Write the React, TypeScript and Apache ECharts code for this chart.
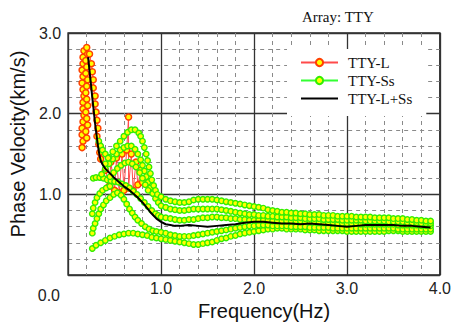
import React, { useEffect, useRef } from 'react';
import * as echarts from 'echarts';

// ---- data ----
const TITLE = 'Array: TTY';
const X_NAME = 'Frequency(Hz)';
const Y_NAME = 'Phase Velocity(km/s)';
const LEGEND = ['TTY-L', 'TTY-Ss', 'TTY-L+Ss'];

// common frequency grid for the high-frequency part of TTY-Ss curves
const FREQ_HI = [
  1.00, 1.05, 1.10, 1.15, 1.20, 1.25, 1.30, 1.35, 1.40, 1.45, 1.50, 1.55, 1.60, 1.65, 1.70, 1.75, 1.80, 1.85, 1.90, 1.95,
  2.00, 2.05, 2.10, 2.15, 2.20, 2.25, 2.30, 2.35, 2.40, 2.45, 2.50, 2.55, 2.60, 2.65, 2.70, 2.75, 2.80, 2.85, 2.90, 2.95,
  3.00, 3.05, 3.10, 3.15, 3.20, 3.25, 3.30, 3.35, 3.40, 3.45, 3.50, 3.55, 3.60, 3.65, 3.70, 3.75, 3.80, 3.85, 3.90,
];

// TTY-Ss curves: low-frequency part as [f, v], high part as v on FREQ_HI
const SS_T_LO = [[0.40, 1.38], [0.44, 1.46], [0.48, 1.53], [0.52, 1.60], [0.56, 1.66], [0.60, 1.72], [0.64, 1.77], [0.68, 1.80], [0.72, 1.80], [0.76, 1.76], [0.78, 1.72], [0.80, 1.66], [0.82, 1.58], [0.84, 1.50], [0.855, 1.42], [0.87, 1.34], [0.885, 1.26], [0.90, 1.18], [0.92, 1.11], [0.94, 1.05], [0.96, 1.00]];
const SS_T_HI = [0.97, 0.94, 0.92, 0.91, 0.90, 0.90, 0.91, 0.93, 0.94, 0.94, 0.94, 0.94, 0.93, 0.92, 0.91, 0.90, 0.89, 0.88, 0.87, 0.86, 0.85, 0.84, 0.83, 0.81, 0.80, 0.79, 0.78, 0.78, 0.77, 0.77, 0.76, 0.76, 0.75, 0.75, 0.75, 0.74, 0.74, 0.74, 0.73, 0.73, 0.73, 0.73, 0.72, 0.72, 0.72, 0.72, 0.71, 0.71, 0.71, 0.71, 0.70, 0.70, 0.70, 0.69, 0.69, 0.68, 0.68, 0.67, 0.67];

const SS_S_LO = [[0.36, 1.25], [0.40, 1.32], [0.44, 1.38], [0.48, 1.44], [0.52, 1.50], [0.56, 1.55], [0.60, 1.58], [0.64, 1.60], [0.68, 1.60], [0.72, 1.56], [0.75, 1.50], [0.78, 1.43], [0.80, 1.36], [0.82, 1.29], [0.84, 1.22], [0.86, 1.15], [0.88, 1.08], [0.91, 1.01], [0.94, 0.95], [0.97, 0.90]];
const SS_S_HI = [0.86, 0.84, 0.82, 0.81, 0.80, 0.80, 0.81, 0.82, 0.82, 0.82, 0.82, 0.82, 0.82, 0.81, 0.80, 0.79, 0.78, 0.77, 0.76, 0.75, 0.75, 0.74, 0.74, 0.73, 0.73, 0.72, 0.72, 0.72, 0.71, 0.71, 0.71, 0.70, 0.70, 0.70, 0.70, 0.69, 0.69, 0.69, 0.69, 0.68, 0.68, 0.68, 0.68, 0.68, 0.67, 0.67, 0.67, 0.67, 0.67, 0.66, 0.66, 0.66, 0.66, 0.65, 0.65, 0.65, 0.64, 0.64, 0.64];

const SS_H_LO = [[0.27, 1.20], [0.30, 1.21], [0.34, 1.21], [0.38, 1.20], [0.42, 1.18], [0.46, 1.17], [0.50, 1.16], [0.54, 1.15], [0.58, 1.13], [0.62, 1.11], [0.66, 1.08], [0.70, 1.04], [0.74, 1.00], [0.78, 0.95], [0.82, 0.90], [0.86, 0.85], [0.90, 0.80], [0.94, 0.76], [0.97, 0.74]];
const SS_H_HI = [0.72, 0.71, 0.70, 0.69, 0.68, 0.68, 0.69, 0.69, 0.70, 0.71, 0.71, 0.72, 0.72, 0.71, 0.71, 0.70, 0.70, 0.69, 0.69, 0.68, 0.68, 0.68, 0.68, 0.68, 0.67, 0.67, 0.67, 0.67, 0.67, 0.67, 0.67, 0.66, 0.66, 0.66, 0.65, 0.65, 0.65, 0.65, 0.64, 0.64, 0.64, 0.64, 0.64, 0.63, 0.63, 0.63, 0.63, 0.63, 0.63, 0.63, 0.63, 0.62, 0.62, 0.62, 0.62, 0.62, 0.61, 0.61, 0.61];

const SS_B_LO = [[0.26, 0.52], [0.27, 0.58], [0.29, 0.64], [0.31, 0.70], [0.33, 0.76], [0.35, 0.82], [0.38, 0.87], [0.41, 0.92], [0.45, 0.96], [0.49, 1.00], [0.53, 1.02], [0.57, 0.99], [0.60, 0.94], [0.63, 0.88], [0.66, 0.82], [0.69, 0.77], [0.72, 0.72], [0.75, 0.68], [0.79, 0.64], [0.83, 0.60], [0.87, 0.57], [0.91, 0.55], [0.95, 0.54]];
const SS_B_HI = [0.53, 0.52, 0.50, 0.49, 0.48, 0.48, 0.48, 0.49, 0.50, 0.51, 0.52, 0.53, 0.54, 0.55, 0.56, 0.57, 0.58, 0.59, 0.60, 0.61, 0.61, 0.62, 0.62, 0.62, 0.61, 0.61, 0.61, 0.61, 0.60, 0.60, 0.60, 0.60, 0.59, 0.59, 0.59, 0.59, 0.59, 0.58, 0.58, 0.58, 0.58, 0.58, 0.58, 0.58, 0.58, 0.58, 0.58, 0.58, 0.58, 0.58, 0.58, 0.57, 0.57, 0.57, 0.57, 0.57, 0.57, 0.57, 0.57];

const SS_A_LO = [[0.26, 0.33], [0.30, 0.37], [0.35, 0.40], [0.40, 0.43], [0.45, 0.46], [0.50, 0.48], [0.55, 0.50], [0.60, 0.51], [0.65, 0.52], [0.70, 0.52], [0.75, 0.51], [0.80, 0.50], [0.85, 0.49], [0.90, 0.47], [0.95, 0.46]];
const SS_A_HI = [0.45, 0.44, 0.43, 0.42, 0.41, 0.40, 0.39, 0.38, 0.38, 0.39, 0.40, 0.41, 0.43, 0.45, 0.46, 0.48, 0.49, 0.51, 0.52, 0.53, 0.54, 0.55, 0.56, 0.57, 0.57, 0.58, 0.58, 0.57, 0.57, 0.57, 0.57, 0.56, 0.56, 0.56, 0.55, 0.55, 0.55, 0.55, 0.55, 0.55, 0.54, 0.54, 0.54, 0.54, 0.54, 0.54, 0.54, 0.54, 0.54, 0.55, 0.55, 0.55, 0.54, 0.54, 0.54, 0.54, 0.54, 0.54, 0.54];

const SS_L2 = [[0.26, 0.76], [0.27, 0.83], [0.29, 0.90], [0.31, 0.96], [0.34, 1.01], [0.37, 1.05], [0.41, 1.08], [0.45, 1.10]];
const SS_K = [[0.33, 1.66], [0.35, 1.60], [0.37, 1.55], [0.40, 1.50], [0.43, 1.45]];
const SS_M = [[0.45, 1.22], [0.49, 1.27], [0.53, 1.32], [0.57, 1.36], [0.61, 1.39], [0.65, 1.40], [0.69, 1.38], [0.73, 1.34], [0.77, 1.27], [0.80, 1.20], [0.83, 1.12], [0.86, 1.05]];

// TTY-L curves
const L_R1 = [[0.17, 2.78], [0.16, 2.70], [0.16, 2.62], [0.15, 2.54], [0.16, 2.46], [0.15, 2.38], [0.16, 2.30], [0.17, 2.22], [0.16, 2.14], [0.16, 2.06], [0.17, 1.98], [0.16, 1.90], [0.15, 1.82], [0.15, 1.74], [0.16, 1.66], [0.15, 1.58]];
const L_R2 = [[0.20, 2.82], [0.21, 2.74], [0.19, 2.66], [0.20, 2.58], [0.19, 2.50], [0.21, 2.42], [0.20, 2.34], [0.19, 2.26], [0.20, 2.18], [0.21, 2.10], [0.19, 2.02], [0.20, 1.94], [0.21, 1.86], [0.19, 1.78], [0.20, 1.70]];
const L_R3 = [[0.23, 2.74], [0.25, 2.62], [0.26, 2.52], [0.27, 2.42], [0.27, 2.32], [0.29, 2.22], [0.29, 2.12], [0.30, 2.02], [0.31, 1.92], [0.32, 1.82], [0.31, 1.72], [0.33, 1.62], [0.34, 1.52], [0.35, 1.44]];
const L_R4 = [[0.40, 1.30], [0.44, 1.10], [0.46, 1.40], [0.50, 1.05], [0.52, 1.45], [0.55, 1.02], [0.58, 1.50], [0.60, 1.05], [0.63, 1.55], [0.65, 1.96], [0.65, 1.08], [0.68, 1.50], [0.70, 1.05], [0.73, 1.40], [0.75, 1.12], [0.78, 1.30], [0.80, 1.15]];

// TTY-L+Ss combined curve
const COMBINED = [[0.215, 2.70], [0.23, 2.53], [0.245, 2.37], [0.26, 2.20], [0.275, 2.04], [0.29, 1.88], [0.305, 1.74], [0.32, 1.61], [0.335, 1.50], [0.35, 1.42], [0.37, 1.37], [0.40, 1.32], [0.45, 1.26], [0.50, 1.20], [0.55, 1.15], [0.60, 1.10], [0.65, 1.06], [0.70, 1.01], [0.75, 0.96], [0.80, 0.90], [0.85, 0.83], [0.90, 0.76], [0.95, 0.70], [1.00, 0.66], [1.05, 0.63], [1.10, 0.62], [1.15, 0.61], [1.20, 0.61], [1.30, 0.62], [1.40, 0.61], [1.50, 0.60], [1.60, 0.61], [1.70, 0.62], [1.80, 0.63], [1.90, 0.65], [2.00, 0.66], [2.10, 0.66], [2.20, 0.65], [2.30, 0.64], [2.40, 0.64], [2.50, 0.63], [2.60, 0.64], [2.70, 0.63], [2.80, 0.62], [2.90, 0.61], [3.00, 0.60], [3.10, 0.61], [3.20, 0.62], [3.30, 0.62], [3.40, 0.62], [3.50, 0.62], [3.60, 0.61], [3.70, 0.61], [3.80, 0.60], [3.90, 0.59]];

const X_TICKS = [0, 1, 2, 3, 4];
const Y_TICKS = [0, 1, 2, 3];

// ---- helpers ----
const joinCurve = (lo: number[][], hi: number[]) => {
  const out = lo.map((p) => [p[0], p[1]]);
  const n = Math.min(hi.length, FREQ_HI.length);
  for (let i = 0; i < n; i++) out.push([FREQ_HI[i], hi[i]]);
  return out;
};

const SANS = 'Arial, "Liberation Sans", sans-serif';
const SERIF = '"Times New Roman", "Liberation Serif", serif';

const redSeries = (data: number[][]) => ({
  type: 'line',
  name: 'TTY-L',
  data,
  symbol: 'circle',
  symbolSize: 6,
  showAllSymbol: true,
  silent: true,
  lineStyle: { color: '#ff4a4a', width: 1 },
  itemStyle: { color: '#ffff00', borderColor: '#ff4000', borderWidth: 1.5 },
  emphasis: { disabled: true },
  z: 2,
});

const greenSeries = (data: number[][]) => ({
  type: 'line',
  name: 'TTY-Ss',
  data,
  symbol: 'circle',
  symbolSize: 5.5,
  showAllSymbol: true,
  silent: true,
  lineStyle: { color: '#33ff33', width: 1 },
  itemStyle: { color: '#ffff00', borderColor: '#33ee00', borderWidth: 1.4 },
  emphasis: { disabled: true },
  z: 3,
});

const fmt = (v: number) => (v === 0 ? '' : v.toFixed(1));

const axisCommon = {
  type: 'value',
  axisLine: { show: false },
  axisTick: { show: false },
  splitLine: { show: true, lineStyle: { color: '#333', width: 1.3 } },
  minorTick: { show: false, splitNumber: 5 },
  minorSplitLine: { show: true, lineStyle: { color: '#8a8a8a', width: 1, type: [4, 4] } },
};

export default function App() {
  const ref = useRef<HTMLDivElement>(null);
  useEffect(() => {
    if (!ref.current) return;
    const chart = echarts.init(ref.current, null, { renderer: 'svg' });
    const option = {
      animation: false,
      backgroundColor: '#ffffff',
      title: {
        text: TITLE,
        left: 297,
        top: 4,
        textStyle: { fontFamily: SERIF, fontSize: 15, fontWeight: 'normal', color: '#111' },
      },
      legend: {
        data: [
          { name: LEGEND[0] },
          { name: LEGEND[1] },
          { name: LEGEND[2], icon: 'path://M0,0 L37,0 L37,2.2 L0,2.2 Z' },
        ],
        orient: 'vertical',
        left: 287,
        top: 49,
        itemWidth: 37,
        itemHeight: 9,
        itemGap: 3,
        padding: [6, 14, 10, 13],
        backgroundColor: '#ffffff',
        textStyle: { fontFamily: SERIF, fontSize: 15, color: '#111', lineHeight: 13, padding: [0, 0, 0, 5] },
      },
      grid: {
        left: 67,
        top: 33,
        right: 11,
        bottom: 43,
        show: true,
        borderColor: '#222',
        borderWidth: 1.5,
        backgroundColor: 'transparent',
      },
      xAxis: {
        ...axisCommon,
        min: X_TICKS[0],
        max: X_TICKS[X_TICKS.length - 1],
        interval: 1,
        name: X_NAME,
        nameLocation: 'middle',
        nameGap: 20,
        nameTextStyle: { fontFamily: SANS, fontSize: 20, color: '#111', padding: [0, 0, 0, 20] },
        axisLabel: { formatter: fmt, margin: 5, fontFamily: SANS, fontSize: 16, color: '#222' },
      },
      yAxis: {
        ...axisCommon,
        min: Y_TICKS[0],
        max: Y_TICKS[Y_TICKS.length - 1],
        interval: 1,
        name: Y_NAME,
        nameLocation: 'middle',
        nameGap: 34,
        nameTextStyle: { fontFamily: SANS, fontSize: 20, color: '#111', padding: [0, 0, 0, 20] },
        axisLabel: { formatter: fmt, margin: 7, fontFamily: SANS, fontSize: 16, color: '#222' },
      },
      graphic: [
        {
          type: 'text',
          x: 60,
          y: 295,
          style: { text: '0.0', align: 'right', verticalAlign: 'middle', font: '16px ' + SANS, fill: '#222' },
        },
      ],
      series: [
        redSeries(L_R1),
        redSeries(L_R2),
        redSeries(L_R3),
        redSeries(L_R4),
        greenSeries(joinCurve(SS_A_LO, SS_A_HI)),
        greenSeries(joinCurve(SS_B_LO, SS_B_HI)),
        greenSeries(joinCurve(SS_H_LO, SS_H_HI)),
        greenSeries(joinCurve(SS_S_LO, SS_S_HI)),
        greenSeries(joinCurve(SS_T_LO, SS_T_HI)),
        greenSeries(SS_L2),
        greenSeries(SS_K),
        greenSeries(SS_M),
        {
          type: 'line',
          name: 'TTY-L+Ss',
          data: COMBINED,
          symbol: 'none',
          silent: true,
          lineStyle: { color: '#000000', width: 2 },
          itemStyle: { color: '#000000' },
          emphasis: { disabled: true },
          z: 5,
        },
      ],
    };
    chart.setOption(option as any);
    return () => chart.dispose();
  }, []);
  return <div ref={ref} style={{ position: 'fixed', left: 0, top: 0, width: 454, height: 326 }} />;
}
